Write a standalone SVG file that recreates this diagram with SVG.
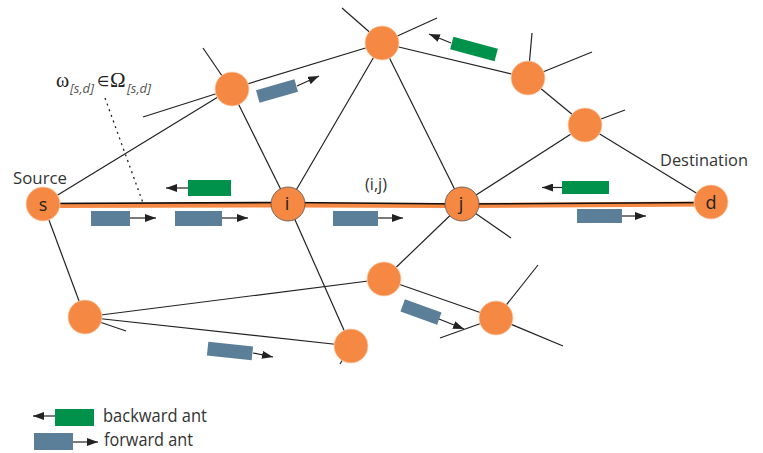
<svg xmlns="http://www.w3.org/2000/svg" width="763" height="453" viewBox="0 0 763 453">
<defs>
<style>
.e{stroke:#222;stroke-width:1.2;fill:none}
.n{fill:#f58842;stroke:#fbd2b5;stroke-width:0.8}
.nd{fill:#f58842;stroke:#555;stroke-width:0.8}
.lbl{font-family:"Open Sans","Liberation Sans",sans-serif;fill:#333}
.nl{font-family:"Open Sans","Liberation Sans",sans-serif;fill:#222;font-size:18px;text-anchor:middle}
.fw{fill:#5b7e99}
.bw{fill:#00924b}
.ar{stroke:#222;stroke-width:1.2;fill:none;marker-end:url(#ah)}
</style>
<marker id="ah" markerWidth="11" markerHeight="8" refX="11" refY="4" orient="auto" markerUnits="userSpaceOnUse">
<path d="M0,0 L11,4 L0,8 z" fill="#222"/>
</marker>
</defs>
<rect width="763" height="453" fill="#fff"/>
<g id="connectors">
<line class="e" x1="43" y1="204" x2="231" y2="89"/>
<line class="e" x1="231" y1="89" x2="143" y2="117"/>
<line class="e" x1="231" y1="89" x2="203" y2="48"/>
<line class="e" x1="231" y1="89" x2="288" y2="204"/>
<line class="e" x1="231" y1="89" x2="382" y2="43"/>
<line class="e" x1="382" y1="43" x2="342" y2="8"/>
<line class="e" x1="382" y1="43" x2="437" y2="18"/>
<line class="e" x1="382" y1="43" x2="288" y2="204"/>
<line class="e" x1="382" y1="43" x2="462" y2="204"/>
<line class="e" x1="382" y1="43" x2="528" y2="78"/>
<line class="e" x1="528" y1="78" x2="532" y2="33"/>
<line class="e" x1="528" y1="78" x2="592" y2="52"/>
<line class="e" x1="528" y1="78" x2="585" y2="125"/>
<line class="e" x1="585" y1="125" x2="625" y2="110"/>
<line class="e" x1="585" y1="125" x2="711" y2="202"/>
<line class="e" x1="585" y1="125" x2="462" y2="204"/>
<line class="e" x1="462" y1="204" x2="511" y2="238"/>
<line class="e" x1="462" y1="204" x2="384" y2="279"/>
<line class="e" x1="384" y1="279" x2="496" y2="318"/>
<line class="e" x1="496" y1="318" x2="538" y2="265"/>
<line class="e" x1="496" y1="318" x2="563" y2="346"/>
<line class="e" x1="496" y1="318" x2="440" y2="338"/>
<line class="e" x1="85" y1="317" x2="384" y2="279"/>
<line class="e" x1="85" y1="317" x2="351" y2="346"/>
<line class="e" x1="85" y1="317" x2="126" y2="331"/>
<line class="e" x1="43" y1="204" x2="85" y2="317"/>
<line class="e" x1="288" y1="204" x2="351" y2="346"/>
<line class="e" x1="351" y1="346" x2="340" y2="364"/>
<polyline points="43,205.5 288,205 462,205.5 711,204" fill="none" stroke="#f58842" stroke-width="5"/>
<polyline points="43,203.5 288,202.5 462,204 711,202.5" fill="none" stroke="#111" stroke-width="1.6"/>
<line x1="105" y1="98" x2="143" y2="203" stroke="#222" stroke-width="1.3" stroke-dasharray="2 4"/>
</g>
<g id="node-s"><circle class="n" cx="43" cy="204" r="17"/><text class="nl" x="43" y="211">s</text></g>
<g id="node-i"><circle class="nd" cx="288" cy="204" r="17"/><text class="nl" x="287" y="210">i</text></g>
<g id="node-j"><circle class="nd" cx="462" cy="204" r="17"/><text class="nl" x="461" y="210">j</text></g>
<g id="node-d"><circle class="n" cx="711" cy="202" r="17"/><text class="nl" x="711" y="209">d</text></g>
<g id="node-a"><circle class="n" cx="232" cy="89" r="17"/></g>
<g id="node-b"><circle class="n" cx="382" cy="43" r="17"/></g>
<g id="node-c"><circle class="n" cx="528" cy="78" r="17"/></g>
<g id="node-dd"><circle class="n" cx="585" cy="125" r="17"/></g>
<g id="node-e"><circle class="n" cx="384" cy="279" r="17"/></g>
<g id="node-f"><circle class="n" cx="496" cy="318" r="17"/></g>
<g id="node-g"><circle class="n" cx="85" cy="317" r="17"/></g>
<g id="node-h"><circle class="n" cx="351" cy="346" r="17"/></g>
<g id="ants">
<rect class="fw" x="91" y="211" width="39" height="15"/><line class="ar" x1="130" y1="218" x2="156" y2="218"/>
<rect class="fw" x="175" y="211" width="47" height="15"/><line class="ar" x1="222" y1="218" x2="248" y2="218"/>
<rect class="fw" x="333" y="211" width="45" height="15"/><line class="ar" x1="378" y1="218" x2="403" y2="218"/>
<rect class="fw" x="577" y="209" width="45" height="14"/><line class="ar" x1="622" y1="216" x2="646" y2="216"/>
<rect class="fw" x="-20" y="-6.5" width="40" height="13" transform="translate(277,91) rotate(-16)"/><line class="ar" x1="297" y1="86" x2="319" y2="76"/>
<rect class="fw" x="-22.5" y="-7" width="45" height="14" transform="translate(230,351) rotate(6)"/><line class="ar" x1="253" y1="353" x2="273" y2="357"/>
<rect class="fw" x="-19.5" y="-6.5" width="39" height="13" transform="translate(421,312) rotate(20)"/><line class="ar" x1="439" y1="319" x2="464" y2="329"/>
<rect class="bw" x="188" y="180" width="43" height="16"/><line class="ar" x1="188" y1="188" x2="166" y2="188"/>
<rect class="bw" x="562" y="181" width="47" height="13"/><line class="ar" x1="562" y1="187.5" x2="542" y2="187.5"/>
<rect class="bw" x="-23" y="-6.5" width="46" height="13" transform="translate(474,49) rotate(15)"/><line class="ar" x1="451" y1="43" x2="429" y2="34"/>
</g>
<g id="labels">
<text class="lbl" x="13" y="184" font-size="17" textLength="54" lengthAdjust="spacingAndGlyphs">Source</text>
<text class="lbl" x="660" y="166" font-size="17" textLength="88" lengthAdjust="spacingAndGlyphs">Destination</text>
<text class="lbl" x="365" y="190" font-size="16" textLength="22" lengthAdjust="spacingAndGlyphs">(i,j)</text>
<text x="56" y="87" font-family="Liberation Serif,serif" font-size="20" fill="#222">ω</text>
<text x="70" y="93" font-family="Open Sans,Liberation Sans,sans-serif" font-style="italic" font-size="13" fill="#555">[s,d]</text>
<text x="97" y="86" font-family="DejaVu Sans,sans-serif" font-size="14" fill="#222">∈</text>
<text x="110" y="87" font-family="Liberation Serif,serif" font-size="21" fill="#222">Ω</text>
<text x="127" y="93" font-family="Open Sans,Liberation Sans,sans-serif" font-style="italic" font-size="13" fill="#555">[s,d]</text>
</g>
<g id="legend">
<rect class="bw" x="55" y="409" width="39" height="17"/><line class="ar" x1="55" y1="416" x2="33" y2="416"/>
<text class="lbl" x="103" y="422" font-size="18" textLength="104" lengthAdjust="spacingAndGlyphs">backward ant</text>
<rect class="fw" x="34" y="433" width="39" height="17"/><line class="ar" x1="73" y1="442" x2="98" y2="442"/>
<text class="lbl" x="104" y="446" font-size="18" textLength="89" lengthAdjust="spacingAndGlyphs">forward ant</text>
</g>
</svg>
